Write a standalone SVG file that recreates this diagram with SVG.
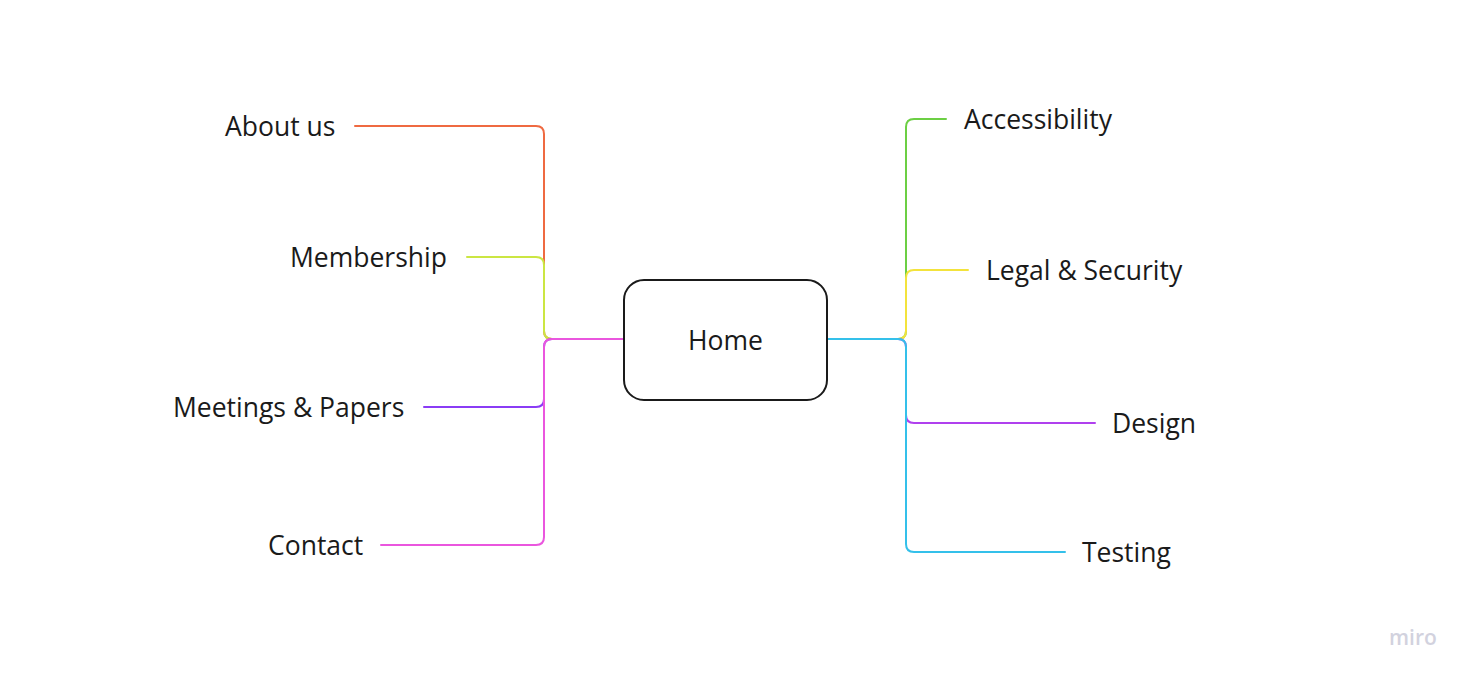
<svg xmlns="http://www.w3.org/2000/svg" width="1470" height="679" viewBox="0 0 1470 679">
<style>
.lbl{font-family:"Open Sans","Noto Sans","Liberation Sans",sans-serif;font-size:26.5px;fill:#1a1a1a}
.c{fill:none;stroke-width:2;stroke-linecap:round;stroke-linejoin:round}
</style>
<rect x="0" y="0" width="1470" height="679" fill="#ffffff"/>
<g id="connectors">
<path class="c" stroke="#ef6a41" d="M623,339 H552 Q544,339 544,331 V134 Q544,126 536,126 H355"/>
<path class="c" stroke="#cbe643" d="M623,339 H552 Q544,339 544,331 V265 Q544,257 536,257 H467"/>
<path class="c" stroke="#8a3cf5" d="M623,339 H552 Q544,339 544,347 V399 Q544,407 536,407 H424"/>
<path class="c" stroke="#ea56de" d="M623,339 H552 Q544,339 544,347 V537 Q544,545 536,545 H381"/>
<path class="c" stroke="#6ccf44" d="M828,339 H898 Q906,339 906,331 V127 Q906,119 914,119 H946"/>
<path class="c" stroke="#f3e33c" d="M828,339 H898 Q906,339 906,331 V278 Q906,270 914,270 H968"/>
<path class="c" stroke="#b040ee" d="M828,339 H898 Q906,339 906,347 V415 Q906,423 914,423 H1095"/>
<path class="c" stroke="#34c0ea" d="M828,339 H898 Q906,339 906,347 V544 Q906,552 914,552 H1065"/>
</g>
<g id="home">
<rect x="624" y="280" width="203" height="120" rx="20" ry="20" fill="#ffffff" stroke="#1a1a1a" stroke-width="2"/>
<text class="lbl" x="725.5" y="350" text-anchor="middle">Home</text>
</g>
<g id="about-us"><text class="lbl" x="225" y="135.5">About us</text></g>
<g id="membership"><text class="lbl" x="290" y="266.5">Membership</text></g>
<g id="meetings-papers"><text class="lbl" x="173" y="416.5">Meetings &amp; Papers</text></g>
<g id="contact"><text class="lbl" x="268" y="554.5">Contact</text></g>
<g id="accessibility"><text class="lbl" x="964" y="128.5">Accessibility</text></g>
<g id="legal-security"><text class="lbl" x="986" y="279.5">Legal &amp; Security</text></g>
<g id="design"><text class="lbl" x="1112" y="432.5">Design</text></g>
<g id="testing"><text class="lbl" x="1082" y="561.5">Testing</text></g>
<text x="1389" y="645" font-family="'Open Sans','Noto Sans',sans-serif" font-size="21" font-weight="600" fill="#d2d2de">miro</text>
</svg>
